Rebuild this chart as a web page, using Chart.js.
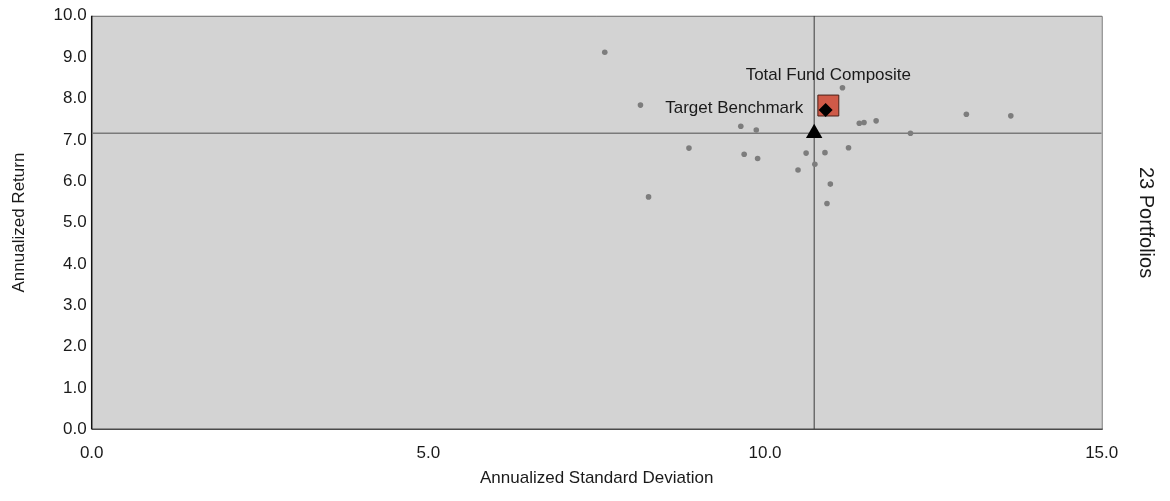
<!DOCTYPE html>
<html>
<head>
<meta charset="utf-8">
<script src="https://cdn.jsdelivr.net/npm/chart.js@4.4.1/dist/chart.umd.min.js"></script>
<style>
  html, body { margin: 0; padding: 0; background: #fff; }
  #wrap { width: 1170px; height: 501px; position: relative; }
</style>
</head>
<body>
<div id="wrap"><canvas id="riskReturn"></canvas></div>
<script>
// universe of portfolios (annualized std dev, annualized return)
const portfolioRisk = [7.62, 8.15, 9.64, 9.87, 8.87, 9.69, 9.89, 10.61, 10.89, 11.24, 10.74,
  10.49, 10.97, 10.92, 8.27, 11.15, 11.40, 11.47, 11.65, 12.16, 12.99, 13.65];
const portfolioReturn = [9.12, 7.84, 7.33, 7.24, 6.80, 6.65, 6.55, 6.68, 6.69, 6.81, 6.41,
  6.27, 5.93, 5.46, 5.62, 8.26, 7.40, 7.42, 7.46, 7.16, 7.62, 7.58];

const compositeLabel = "Total Fund Composite";
const compositePoint = [10.94, 7.83];
const diamondPoint = [10.90, 7.72];
const benchmarkLabel = "Target Benchmark";
const benchmarkPoint = [10.73, 7.16];

const xTicks = [0, 5, 10, 15];
const yTicks = [0, 1, 2, 3, 4, 5, 6, 7, 8, 9, 10];
const portfolioCount = "23 Portfolios";

const FONT = "'Liberation Sans', Arial, sans-serif";

const dots = portfolioRisk.map((x, i) => ({ x: x, y: portfolioReturn[i] }));

// grey plot area + frame
const plotFrame = {
  id: "plotFrame",
  beforeDatasetsDraw(chart) {
    const { ctx, chartArea: a } = chart;
    ctx.save();
    ctx.fillStyle = "#d3d3d3";
    ctx.fillRect(a.left, a.top, a.right - a.left, a.bottom - a.top);
    ctx.lineWidth = 1;
    ctx.strokeStyle = "#6e6e6e";
    ctx.beginPath();
    ctx.moveTo(a.left, a.top + 0.5);
    ctx.lineTo(a.right + 0.5, a.top + 0.5);
    ctx.lineTo(a.right + 0.5, a.bottom);
    ctx.stroke();
    ctx.lineWidth = 1.5;
    ctx.strokeStyle = "#4a4a4a";
    ctx.beginPath();
    ctx.moveTo(a.left, a.bottom);
    ctx.lineTo(a.right + 1, a.bottom);
    ctx.stroke();
    ctx.strokeStyle = "#111";
    ctx.beginPath();
    ctx.moveTo(a.left, a.top);
    ctx.lineTo(a.left, a.bottom);
    ctx.stroke();
    ctx.restore();
  },
};

// text labels beside the composite and benchmark markers
const pointLabels = {
  id: "pointLabels",
  afterDatasetsDraw(chart) {
    const { ctx } = chart;
    const xs = chart.scales.x, ys = chart.scales.y;
    ctx.save();
    ctx.font = "17px " + FONT;
    ctx.fillStyle = "#1a1a1a";
    ctx.textBaseline = "middle";
    ctx.textAlign = "center";
    ctx.fillText(compositeLabel, xs.getPixelForValue(compositePoint[0]), ys.getPixelForValue(compositePoint[1]) - 30);
    ctx.textAlign = "right";
    ctx.fillText(benchmarkLabel, xs.getPixelForValue(benchmarkPoint[0]) - 11, ys.getPixelForValue(benchmarkPoint[1]) - 25);
    ctx.restore();
  },
};

const tickFont = { family: FONT, size: 17 };

new Chart(document.getElementById("riskReturn"), {
  type: "scatter",
  data: {
    datasets: [
      {
        label: benchmarkLabel,
        data: [{ x: benchmarkPoint[0], y: benchmarkPoint[1] }],
        pointStyle: "triangle",
        pointRadius: 9.5,
        backgroundColor: "#000",
        borderColor: "#000",
        borderWidth: 0,
        order: 0,
      },
      {
        label: "diamond",
        data: [{ x: diamondPoint[0], y: diamondPoint[1] }],
        pointStyle: "rectRot",
        pointRadius: 7,
        backgroundColor: "#000",
        borderColor: "#000",
        borderWidth: 0,
        order: 1,
      },
      {
        label: compositeLabel,
        data: [{ x: compositePoint[0], y: compositePoint[1] }],
        pointStyle: "rect",
        pointRadius: 14.8,
        backgroundColor: "#cf5a48",
        borderColor: "#4a2018",
        borderWidth: 1,
        order: 2,
      },
      {
        label: "Portfolios",
        data: dots,
        pointRadius: 2.8,
        backgroundColor: "#7d7d7d",
        borderWidth: 0,
        order: 3,
      },
      {
        // benchmark crosshair, horizontal
        type: "line",
        data: [{ x: xTicks[0], y: benchmarkPoint[1] }, { x: xTicks[xTicks.length - 1], y: benchmarkPoint[1] }],
        borderColor: "#7a7a7a",
        borderWidth: 1.6,
        pointRadius: 0,
        order: 4,
      },
      {
        // benchmark crosshair, vertical
        type: "line",
        data: [{ x: benchmarkPoint[0], y: yTicks[0] }, { x: benchmarkPoint[0], y: yTicks[yTicks.length - 1] }],
        borderColor: "#3a3a3a",
        borderWidth: 1,
        pointRadius: 0,
        order: 4,
      },
    ],
  },
  options: {
    responsive: true,
    maintainAspectRatio: false,
    animation: false,
    layout: { padding: { top: 12.5, right: 0, bottom: 0, left: 0 } },
    plugins: {
      legend: { display: false },
      tooltip: { enabled: false },
    },
    scales: {
      x: {
        type: "linear",
        min: xTicks[0],
        max: xTicks[xTicks.length - 1],
        afterBuildTicks: (s) => { s.ticks = xTicks.map((v) => ({ value: v })); },
        afterFit: (s) => { s.height = 71.7; },
        grid: { display: false, drawTicks: false },
        border: { display: false },
        ticks: {
          font: tickFont,
          color: "#1a1a1a",
          padding: 14,
          maxRotation: 0,
          callback: (v) => Number(v).toFixed(1),
        },
        title: {
          display: true,
          text: "Annualized Standard Deviation",
          font: tickFont,
          color: "#1a1a1a",
          padding: { top: 0, bottom: 12 },
        },
      },
      y: {
        type: "linear",
        min: yTicks[0],
        max: yTicks[yTicks.length - 1],
        afterBuildTicks: (s) => { s.ticks = yTicks.map((v) => ({ value: v })); },
        afterFit: (s) => { s.width = 91.7; },
        grid: { display: false, drawTicks: false },
        border: { display: false },
        ticks: {
          font: tickFont,
          color: "#1a1a1a",
          padding: 5,
          callback: (v) => Number(v).toFixed(1),
        },
        title: {
          display: true,
          text: "Annualized Return",
          font: tickFont,
          color: "#1a1a1a",
          padding: { top: 9, bottom: 0 },
        },
      },
      y2: {
        type: "linear",
        position: "right",
        min: yTicks[0],
        max: yTicks[yTicks.length - 1],
        afterFit: (s) => { s.width = 68.3; },
        grid: { display: false, drawTicks: false },
        border: { display: false },
        ticks: { display: false },
        title: {
          display: true,
          text: portfolioCount,
          font: { family: FONT, size: 20 },
          color: "#1a1a1a",
          padding: { top: 12, bottom: 0 },
        },
      },
    },
  },
  plugins: [plotFrame, pointLabels],
});
</script>
</body>
</html>
